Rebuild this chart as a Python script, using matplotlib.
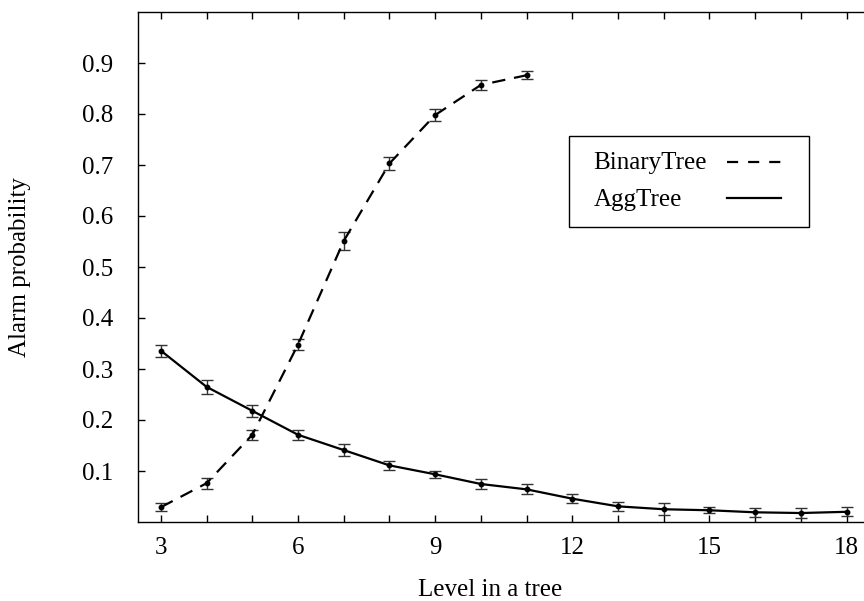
import matplotlib
matplotlib.use("Agg")
import matplotlib.pyplot as plt
from matplotlib.lines import Line2D
from matplotlib.patches import Rectangle

# ---- data ----
binary_x = [3, 4, 5, 6, 7, 8, 9, 10, 11]
binary_y = [0.029, 0.076, 0.171, 0.348, 0.551, 0.703, 0.798, 0.857, 0.876]
binary_err = [0.008, 0.011, 0.010, 0.011, 0.018, 0.012, 0.012, 0.010, 0.008]

agg_x = [3, 4, 5, 6, 7, 8, 9, 10, 11, 12, 13, 14, 15, 16, 17, 18]
agg_y = [0.336, 0.265, 0.218, 0.171, 0.141, 0.111, 0.0935, 0.0745, 0.064,
         0.0457, 0.0307, 0.025, 0.023, 0.019, 0.0176, 0.020]
agg_err = [0.012, 0.014, 0.012, 0.010, 0.011, 0.0085, 0.007, 0.010, 0.010,
           0.0085, 0.009, 0.012, 0.006, 0.0085, 0.009, 0.009]

x_ticks = list(range(3, 19))
x_tick_labels = [str(v) if v % 3 == 0 else "" for v in x_ticks]
y_ticks = [0.1, 0.2, 0.3, 0.4, 0.5, 0.6, 0.7, 0.8, 0.9]
y_tick_labels = ["0.1", "0.2", "0.3", "0.4", "0.5", "0.6", "0.7", "0.8", "0.9"]
series_names = ["BinaryTree", "AggTree"]

plt.rcParams["font.family"] = ["Liberation Serif", "DejaVu Serif"]
FS = 18

fig = plt.figure(figsize=(8.64, 6.01), dpi=100)
W, H = 864, 601
left, right, top, bottom = 138, 869.5, 12, 522
ax = fig.add_axes([left / W, (H - bottom) / H, (right - left) / W, (bottom - top) / H])

dash = (6, 4)
ax.errorbar(binary_x, binary_y, yerr=binary_err, fmt="none", ecolor="#333333",
            elinewidth=1.0, capsize=4.5, capthick=1.0, zorder=2)
ax.plot(binary_x, binary_y, color="black", lw=1.6, dashes=dash, zorder=3)
ax.plot(binary_x, binary_y, "o", color="black", ms=3.2, zorder=4)

ax.errorbar(agg_x, agg_y, yerr=agg_err, fmt="none", ecolor="#333333",
            elinewidth=1.0, capsize=4.5, capthick=1.0, zorder=2)
ax.plot(agg_x, agg_y, color="black", lw=1.6, zorder=3)
ax.plot(agg_x, agg_y, "o", color="black", ms=3.2, zorder=4)

ax.set_xlim(2.5, 18.5)
ax.set_ylim(0, 1.0)
ax.set_xticks(x_ticks)
ax.set_xticklabels(x_tick_labels, fontsize=FS)
ax.set_yticks(y_ticks)
ax.set_yticklabels(y_tick_labels, fontsize=FS)
ax.tick_params(axis="x", direction="in", length=5, width=1, top=True, pad=11)
ax.tick_params(axis="y", direction="in", length=5, width=1, right=False, pad=18)
for s in ax.spines.values():
    s.set_linewidth(1.0)

ax.set_xlabel("Level in a tree", fontsize=FS)
ax.xaxis.label.set_va("center")
ax.xaxis.set_label_coords(0.481, -0.133)
ax.set_ylabel("Alarm probability", fontsize=FS)
ax.yaxis.label.set_va("center")
ax.yaxis.set_label_coords(-0.161, 0.5)

# gnuplot-style key: text on the left, line sample on the right
tr = ax.transAxes
ax.add_patch(Rectangle((0.589, 0.579), 0.917 - 0.589, 0.757 - 0.579, transform=tr,
                       fill=False, edgecolor="black", lw=1.0, zorder=5))
ax.text(0.6225, 0.703, series_names[0], transform=tr, fontsize=FS, va="center", ha="left")
ax.text(0.6225, 0.631, series_names[1], transform=tr, fontsize=FS, va="center", ha="left")
ax.add_line(Line2D([0.8055, 0.8793], [0.705, 0.705], transform=tr, color="black",
                   lw=1.6, dashes=(5, 4.5)))
ax.add_line(Line2D([0.8055, 0.8793], [0.636, 0.636], transform=tr, color="black", lw=1.6))

fig.savefig("out.png", dpi=100)
